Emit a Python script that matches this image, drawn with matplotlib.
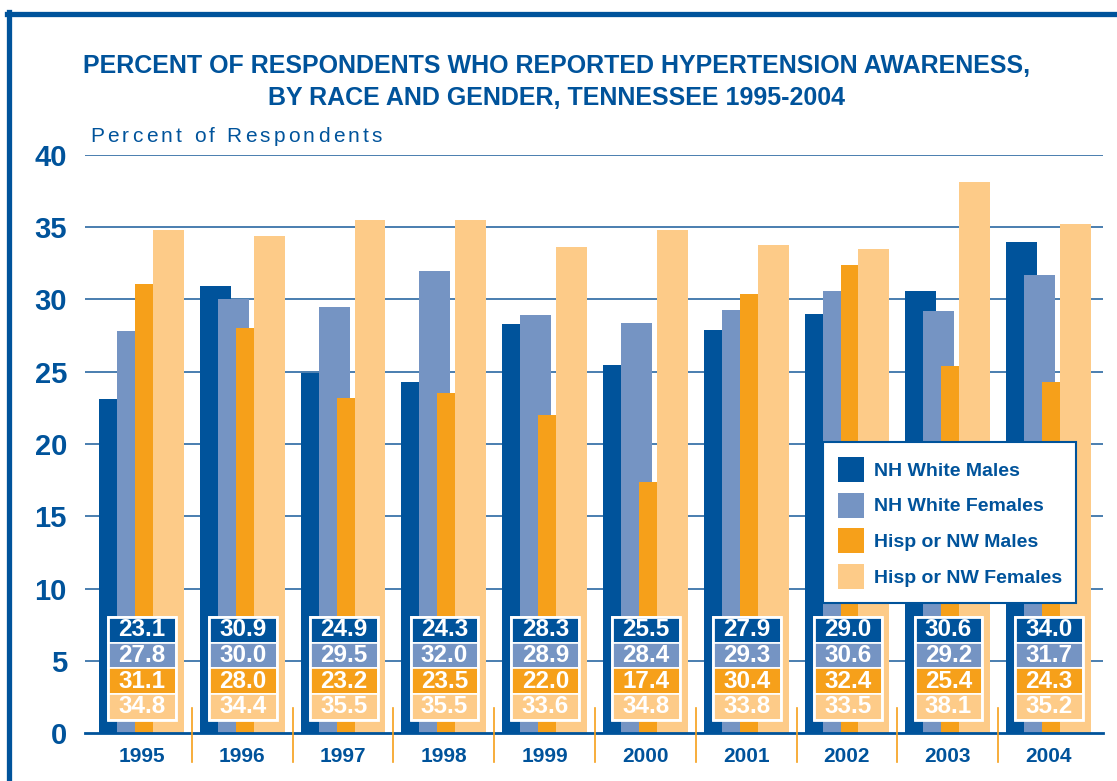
import numpy as np
import matplotlib.pyplot as plt
from matplotlib.patches import Rectangle, Patch
from matplotlib.lines import Line2D

plt.rcParams['font.family'] = ['Liberation Sans', 'DejaVu Sans']

years = ['1995', '1996', '1997', '1998', '1999', '2000', '2001', '2002', '2003', '2004']
nh_white_males = [23.1, 30.9, 24.9, 24.3, 28.3, 25.5, 27.9, 29.0, 30.6, 34.0]
nh_white_females = [27.8, 30.0, 29.5, 32.0, 28.9, 28.4, 29.3, 30.6, 29.2, 31.7]
hisp_nw_males = [31.1, 28.0, 23.2, 23.5, 22.0, 17.4, 30.4, 32.4, 25.4, 24.3]
hisp_nw_females = [34.8, 34.4, 35.5, 35.5, 33.6, 34.8, 33.8, 33.5, 38.1, 35.2]
series_names = ['NH White Males', 'NH White Females', 'Hisp or NW Males', 'Hisp or NW Females']

navy = '#00539B'
colors = ['#00539B', '#7594C3', '#F6A01A', '#FDCB88']
series = [nh_white_males, nh_white_females, hisp_nw_males, hisp_nw_females]

W, H = 1117, 781
fig = plt.figure(figsize=(W / 100, H / 100), dpi=100)
ax = fig.add_axes([85 / W, 1 - 733 / H, (1103 - 85) / W, (733 - 155) / H])

x = np.arange(len(years))
bw = 0.307
step = 0.178
for i, (vals, c) in enumerate(zip(series, colors)):
    ax.bar(x - 0.42 + step * i, vals, width=bw, align='edge', color=c, zorder=2)

ax.set_xlim(-0.56, 9.54)
ax.set_ylim(0, 40)
ax.set_yticks(range(0, 41, 5))
for yv in range(5, 41, 5):
    ax.axhline(yv, color='#3B74A9', lw=1.3, zorder=1)
ax.axhline(0, color=navy, lw=2, zorder=3, clip_on=False)
for s in ax.spines.values():
    s.set_visible(False)
ax.tick_params(axis='y', length=0, pad=13, labelsize=21, labelcolor=navy)
for lab in ax.get_yticklabels():
    lab.set_fontweight('bold')
ax.set_xticks(x)
ax.set_xticklabels(years, fontsize=15, fontweight='bold', color=navy)
ax.tick_params(axis='x', length=0, pad=10)

# separators between years
for i in range(len(years) - 1):
    ax.plot([i + 0.5, i + 0.5], [-2.0, 1.73], color='#F6A01A', lw=1.2, clip_on=False, zorder=3)

# value tables inside each group
tw = 0.673
row_h = 1.78
top = 8.03
for i in range(len(years)):
    x0 = x[i] - 0.33
    ax.add_patch(Rectangle((x0, top - 4 * row_h), tw, 4 * row_h, facecolor='none',
                           edgecolor='white', lw=2, zorder=5))
    for r, (vals, c) in enumerate(zip(series, colors)):
        y0 = top - (r + 1) * row_h
        ax.add_patch(Rectangle((x0, y0), tw, row_h, facecolor=c, edgecolor='white',
                               lw=1.2, zorder=4))
        ax.text(x0 + tw / 2, y0 + row_h / 2, f'{vals[i]:.1f}', ha='center', va='center',
                color='white', fontsize=17.5, fontweight='bold', zorder=6)

handles = [Patch(facecolor=c, edgecolor='none') for c in colors]
leg = ax.legend(handles, series_names, loc='upper left', bbox_to_anchor=(0.725, 0.503),
                fontsize=14, frameon=True, fancybox=False, framealpha=1,
                handlelength=1.35, handleheight=1.6, labelspacing=0.55,
                borderpad=0.75, handletextpad=0.5, borderaxespad=0)
leg.get_frame().set_edgecolor(navy)
leg.get_frame().set_linewidth(1.5)
leg.set_zorder(7)
for t in leg.get_texts():
    t.set_color(navy)
    t.set_fontweight('bold')

fig.text(557 / W, 1 - 66 / H, 'PERCENT OF RESPONDENTS WHO REPORTED HYPERTENSION AWARENESS,',
         ha='center', va='center', fontsize=18, fontweight='bold', color=navy)
fig.text(557 / W, 1 - 98 / H, 'BY RACE AND GENDER, TENNESSEE 1995-2004',
         ha='center', va='center', fontsize=18, fontweight='bold', color=navy)

# letter-spaced axis caption, placed one character at a time
caption = 'Percent of Respondents'
renderer = fig.canvas.get_renderer()
widths = []
for ch in caption:
    if ch == ' ':
        widths.append(15 * 100 / 72 * 0.278)
    else:
        t = fig.text(0, 0, ch, fontsize=15)
        widths.append(t.get_window_extent(renderer).width)
        t.remove()
track = (292 - sum(widths)) / (len(caption) - 1)
xpos = 90
for ch, w in zip(caption, widths):
    if ch != ' ':
        fig.text(xpos / W, 1 - 136 / H, ch, ha='left', va='center', fontsize=15, color=navy)
    xpos += w + track

# frame
fig.add_artist(Line2D([7 / W, 1], [1 - 13.5 / H, 1 - 13.5 / H], color=navy, lw=3.8))
fig.add_artist(Line2D([9.5 / W, 9.5 / W], [0, 1 - 11.5 / H], color=navy, lw=3.8))

fig.savefig('out.png', dpi=100)
